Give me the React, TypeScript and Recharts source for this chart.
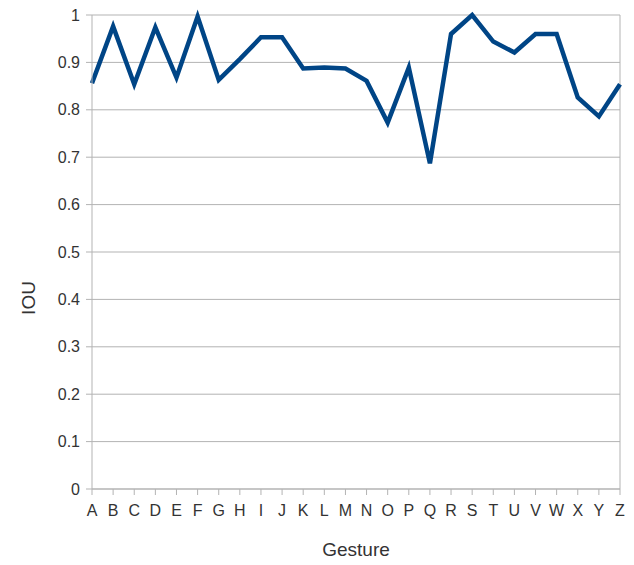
import { LineChart, Line, XAxis, YAxis, CartesianGrid, ReferenceLine } from 'recharts'

const gestures = ['A', 'B', 'C', 'D', 'E', 'F', 'G', 'H', 'I', 'J', 'K', 'L', 'M', 'N', 'O', 'P', 'Q', 'R', 'S', 'T', 'U', 'V', 'W', 'X', 'Y', 'Z']
const iou = [
  0.856, 0.976, 0.854, 0.974, 0.868, 0.997, 0.863, 0.907, 0.953, 0.953, 0.887, 0.889, 0.887,
  0.861, 0.773, 0.889, 0.687, 0.96, 1.0, 0.944, 0.921, 0.96, 0.96, 0.826, 0.786, 0.854,
]
const yTicks = [0, 0.1, 0.2, 0.3, 0.4, 0.5, 0.6, 0.7, 0.8, 0.9, 1]

const data = gestures.map((g, i) => ({ gesture: g, iou: iou[i] }))

const FONT = '"Liberation Sans", Arial, sans-serif'
const GRID = '#b3b3b3'

export default function App() {
  return (
    <div style={{ position: 'absolute', left: 0, top: 0, background: '#fff' }}>
      <LineChart width={634} height={565} data={data} margin={{ top: 15, right: 14, bottom: 0, left: 0 }}>
        <CartesianGrid vertical={false} stroke={GRID} />
        <ReferenceLine x="Z" stroke={GRID} />
        <XAxis
          dataKey="gesture"
          height={76}
          stroke={GRID}
          tickSize={6}
          tickMargin={10}
          tick={{ fill: '#333', fontSize: 16, fontFamily: FONT }}
          interval={0}
          label={{ value: 'Gesture', position: 'insideBottom', offset: 9, fill: '#333', fontSize: 19, fontFamily: FONT }}
        />
        <YAxis
          width={92}
          domain={[0, 1]}
          ticks={yTicks}
          stroke={GRID}
          tickSize={6}
          tickMargin={6}
          tick={{ fill: '#333', fontSize: 16, fontFamily: FONT }}
          label={{
            content: () => (
              <text x={28} y={298} transform="rotate(-90 28 298)" textAnchor="middle" dominantBaseline="central" fill="#333" fontSize={19} fontFamily={FONT}>
                IOU
              </text>
            ),
          }}
        />
        <Line type="linear" dataKey="iou" stroke="#004586" strokeWidth={4.5} dot={false} isAnimationActive={false} />
      </LineChart>
    </div>
  )
}
